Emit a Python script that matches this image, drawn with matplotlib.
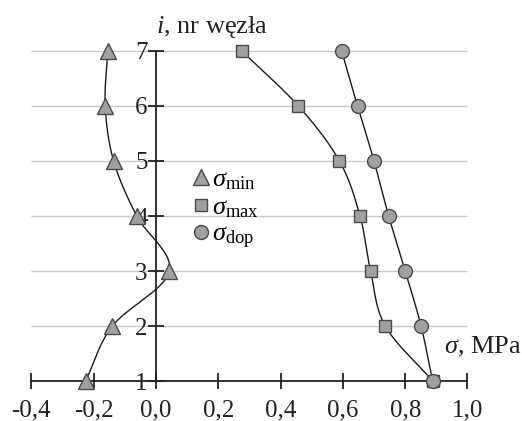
import numpy as np
import matplotlib.pyplot as plt

# --- DATA ---
nodes = [1, 2, 3, 4, 5, 6, 7]
sigma_min = [-0.226, -0.14, 0.043, -0.062, -0.136, -0.163, -0.155]
sigma_max = [0.888, 0.736, 0.689, 0.655, 0.589, 0.457, 0.275]
sigma_dop = [0.888, 0.851, 0.800, 0.747, 0.700, 0.647, 0.596]
x_ticks = [-0.4, -0.2, 0.0, 0.2, 0.4, 0.6, 0.8, 1.0]
x_labels = ['-0,4', '-0,2', '0,0', '0,2', '0,4', '0,6', '0,8', '1,0']

XLIM = (-0.5008, 1.175)
YLIM = (0.273, 7.927)


def smooth(xs, ys, n=30):
    # catmull-rom through points, in screen-like scaled space
    sx, sy = 311.5, 55.0
    P = np.column_stack([np.array(xs) * sx, np.array(ys) * sy])
    P = np.vstack([P[0] - (P[1] - P[0]), P, P[-1] + (P[-1] - P[-2])])
    out = []
    for i in range(1, len(P) - 2):
        p0, p1, p2, p3 = P[i - 1], P[i], P[i + 1], P[i + 2]
        t = np.linspace(0, 1, n)[:, None]
        c = 0.5 * ((2 * p1) + (-p0 + p2) * t + (2 * p0 - 5 * p1 + 4 * p2 - p3) * t ** 2
                   + (-p0 + 3 * p1 - 3 * p2 + p3) * t ** 3)
        out.append(c)
    c = np.vstack(out)
    return c[:, 0] / sx, c[:, 1] / sy


plt.rcParams['font.family'] = ['Liberation Serif', 'DejaVu Serif']
plt.rcParams['mathtext.fontset'] = 'custom'
plt.rcParams['mathtext.rm'] = 'Liberation Serif'
plt.rcParams['mathtext.it'] = 'Liberation Serif:italic'

fig = plt.figure(figsize=(5.22, 4.21), dpi=100)
ax = fig.add_axes([0, 0, 1, 1])
ax.set_xlim(*XLIM)
ax.set_ylim(*YLIM)
ax.patch.set_visible(False)

ax.hlines(nodes[1:], x_ticks[0], x_ticks[-1], color='#c8c8c8', lw=1.0, zorder=0)

mfc, mec = '#a0a0a0', '#4a4a4a'
series = [
    (sigma_min, '^', 11, r'$\sigma_{\rm min}$'),
    (sigma_max, 's', 8, r'$\sigma_{\rm max}$'),
    (sigma_dop, 'o', 10, r'$\sigma_{\rm dop}$'),
]
for vals, m, ms, lab in series:
    cx, cy = smooth(vals, nodes)
    ax.plot(cx, cy, color='#1a1a1a', lw=1.0, zorder=2)
    ax.plot(vals, nodes, ls='none', marker=m, ms=ms, mfc=mfc, mec=mec, mew=1.0,
            zorder=3, label=lab)

for s in ['top', 'right']:
    ax.spines[s].set_visible(False)
ax.spines['left'].set_position(('data', 0))
ax.spines['left'].set_bounds(1, 7)
ax.spines['bottom'].set_position(('data', 1))
ax.spines['bottom'].set_bounds(x_ticks[0], x_ticks[-1])
for s in ['left', 'bottom']:
    ax.spines[s].set_linewidth(1.3)
    ax.spines[s].set_color('#222222')

ax.set_xticks(x_ticks)
ax.set_xticklabels(x_labels)
ax.set_yticks(nodes)
ax.tick_params(direction='inout', length=12, width=1.3, color='#222222',
               labelsize=18, labelcolor='#222222')
ax.tick_params(axis='x', pad=7)
ax.tick_params(axis='y', pad=0)

ax.text(0.0, 7.2, r'$i$, nr węzła', fontsize=19, color='#222222', ha='left', va='bottom')
ax.text(1.172, 1.62, r'$\sigma$, MPa', fontsize=19, color='#222222', ha='right', va='center')

ax.legend(loc='upper left', bbox_to_anchor=(0.34, 0.632), frameon=False, fontsize=19,
          handletextpad=0.0, labelspacing=0.13, borderpad=0, handlelength=0.8)

fig.savefig('out.png', dpi=100)
